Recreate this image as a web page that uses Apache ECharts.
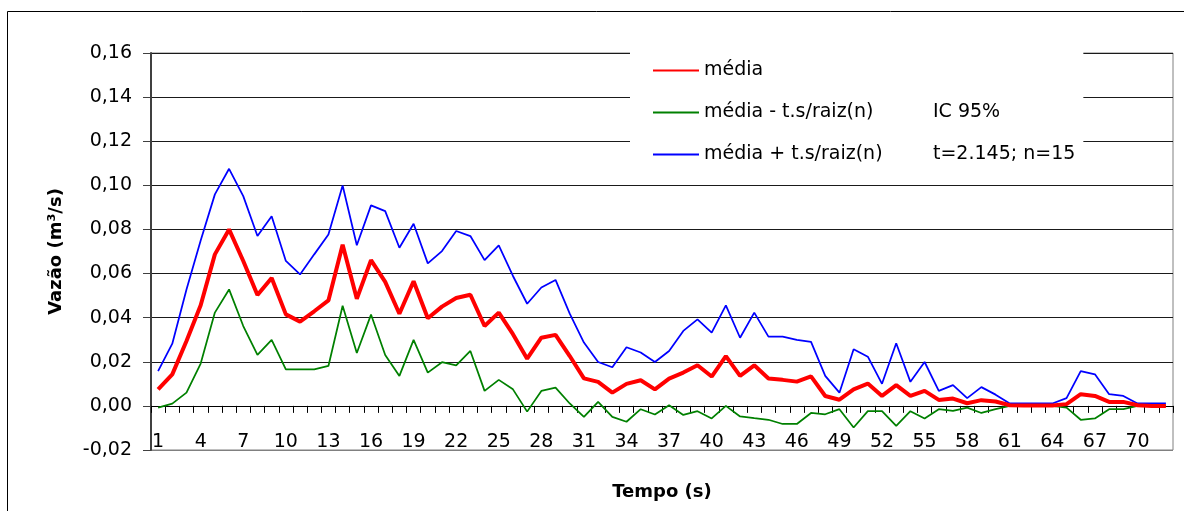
<!DOCTYPE html>
<html>
<head>
<meta charset="utf-8">
<script src="https://cdn.jsdelivr.net/npm/echarts@6/dist/echarts.min.js"></script>
<style>
html,body{margin:0;padding:0;background:#fff;}
#chart{width:1184px;height:511px;}
</style>
</head>
<body>
<div id="chart"></div>
<script>
const categories = [1,2,3,4,5,6,7,8,9,10,11,12,13,14,15,16,17,18,19,20,21,22,23,24,25,26,27,28,29,30,31,32,33,34,35,36,37,38,39,40,41,42,43,44,45,46,47,48,49,50,51,52,53,54,55,56,57,58,59,60,61,62,63,64,65,66,67,68,69,70,71,72];

const media = [0.0075,0.0143,0.0294,0.0456,0.0687,0.0800,0.0657,0.0503,0.0580,0.0415,
  0.0382,0.0429,0.0478,0.0731,0.0486,0.0661,0.0562,0.0418,0.0565,0.0397,
  0.0450,0.0489,0.0504,0.0362,0.0423,0.0325,0.0214,0.0309,0.0322,0.0226,
  0.0125,0.0109,0.0060,0.0100,0.0116,0.0075,0.0124,0.0151,0.0184,0.0133,
  0.0226,0.0136,0.0184,0.0124,0.0118,0.0110,0.0134,0.0045,0.0028,0.0075,
  0.0101,0.0045,0.0094,0.0045,0.0068,0.0027,0.0033,0.0012,0.0026,0.0020,
  0.0003,0.0002,0.0002,0.0002,0.0008,0.0053,0.0045,0.0018,0.0018,0.0003,
  0.0000,0.0000];

const mediaMenos = [-0.0008,0.0010,0.0060,0.0192,0.0423,0.0528,0.0362,0.0231,0.0299,0.0166,
  0.0166,0.0166,0.0181,0.0454,0.0240,0.0414,0.0231,0.0136,0.0299,0.0151,
  0.0198,0.0184,0.0249,0.0068,0.0118,0.0075,-0.0026,0.0068,0.0083,0.0011,
  -0.0050,0.0018,-0.0050,-0.0072,-0.0015,-0.0039,0.0003,-0.0041,-0.0024,-0.0057,
  0.0000,-0.0048,-0.0056,-0.0063,-0.0082,-0.0082,-0.0032,-0.0038,-0.0015,-0.0098,
  -0.0024,-0.0024,-0.0091,-0.0024,-0.0057,-0.0015,-0.0023,-0.0008,-0.0032,-0.0015,
  0.0000,0.0000,0.0000,0.0000,-0.0008,-0.0063,-0.0057,-0.0015,-0.0015,0.0000,
  0.0000,0.0000];

const mediaMais = [0.0158,0.0282,0.0528,0.0750,0.0959,0.1075,0.0951,0.0770,0.0860,0.0657,
  0.0596,0.0687,0.0777,0.0999,0.0728,0.0909,0.0883,0.0717,0.0826,0.0646,
  0.0702,0.0793,0.0770,0.0661,0.0728,0.0589,0.0463,0.0537,0.0571,0.0418,
  0.0287,0.0199,0.0175,0.0266,0.0242,0.0199,0.0249,0.0340,0.0392,0.0332,
  0.0456,0.0309,0.0423,0.0314,0.0314,0.0299,0.0290,0.0136,0.0060,0.0257,
  0.0223,0.0100,0.0284,0.0109,0.0199,0.0068,0.0094,0.0035,0.0085,0.0051,
  0.0011,0.0011,0.0011,0.0011,0.0035,0.0158,0.0143,0.0053,0.0045,0.0011,
  0.0011,0.0011];

const seriesNames = ['média', 'média - t.s/raiz(n)', 'média + t.s/raiz(n)'];
const legendExtras = ['', 'IC 95%', 't=2.145; n=15'];
const yMin = -0.02, yMax = 0.16, yStep = 0.02;

const FONT = 'DejaVu Sans';
const chart = echarts.init(document.getElementById('chart'), null, {renderer: 'canvas'});

const option = {
  animation: false,
  backgroundColor: '#fff',
  graphic: [{
    type: 'rect', z: -10, silent: true,
    shape: {x: 7.5, y: 11.5, width: 1200, height: 600},
    style: {fill: 'none', stroke: '#000', lineWidth: 1}
  }],
  grid: {
    left: 151, top: 53, right: 11, bottom: 61,
    containLabel: false,
    outerBoundsMode: 'none',
    show: true, borderColor: '#808080', borderWidth: 1, backgroundColor: 'transparent'
  },
  legend: {
    orient: 'vertical',
    left: 630, top: 45,
    padding: [16, 8, 8, 22],
    backgroundColor: '#fff',
    itemWidth: 46, itemHeight: 20, itemGap: 23,
    itemStyle: {opacity: 0},
    data: seriesNames,
    formatter: function (name) {
      const i = seriesNames.indexOf(name);
      return '{a|' + name + '}{b|' + legendExtras[i] + '}';
    },
    textStyle: {
      fontFamily: FONT, fontSize: 19, color: '#000',
      rich: {
        a: {width: 229, fontFamily: FONT, fontSize: 19, color: '#000'},
        b: {fontFamily: FONT, fontSize: 19, color: '#000'}
      }
    }
  },
  xAxis: {
    type: 'category',
    data: categories,
    boundaryGap: true,
    name: 'Tempo (s)',
    nameLocation: 'middle',
    nameGap: 33,
    nameTextStyle: {fontFamily: FONT, fontSize: 18, fontWeight: 'bold', color: '#000'},
    axisLine: {onZero: true, lineStyle: {color: '#000', width: 1}},
    axisTick: {show: true, interval: 0, length: 7, lineStyle: {color: '#000'}},
    axisLabel: {interval: 2, margin: -17, fontFamily: FONT, fontSize: 19, color: '#000'},
    splitLine: {show: false}
  },
  yAxis: {
    type: 'value',
    min: yMin, max: yMax, interval: yStep,
    name: 'Vazão (m³/s)',
    nameLocation: 'middle',
    nameGap: 86,
    nameTextStyle: {fontFamily: FONT, fontSize: 18, fontWeight: 'bold', color: '#000'},
    axisLine: {show: true, lineStyle: {color: '#404040', width: 2}},
    axisTick: {show: true, length: 8, lineStyle: {color: '#404040'}},
    axisLabel: {
      margin: 19, fontFamily: FONT, fontSize: 19, color: '#000',
      formatter: function (v) {
        return (Math.round(v * 100) / 100).toFixed(2).replace('.', ',');
      }
    },
    splitLine: {show: true, lineStyle: {color: ['#808080','#1a1a1a','#1a1a1a','#1a1a1a','#1a1a1a','#1a1a1a','#1a1a1a','#1a1a1a','#1a1a1a','#1a1a1a'], width: 1}}
  },
  series: [
    {
      name: seriesNames[2], type: 'line', data: mediaMais,
      symbol: 'none', z: 2,
      lineStyle: {color: '#0000FF', width: 1.75},
      itemStyle: {color: '#0000FF'}
    },
    {
      name: seriesNames[1], type: 'line', data: mediaMenos,
      symbol: 'none', z: 3,
      lineStyle: {color: '#008000', width: 1.75},
      itemStyle: {color: '#008000'}
    },
    {
      name: seriesNames[0], type: 'line', data: media,
      symbol: 'none', z: 4,
      lineStyle: {color: '#FF0000', width: 4},
      itemStyle: {color: '#FF0000'}
    }
  ]
};
chart.setOption(option);
</script>
</body>
</html>
